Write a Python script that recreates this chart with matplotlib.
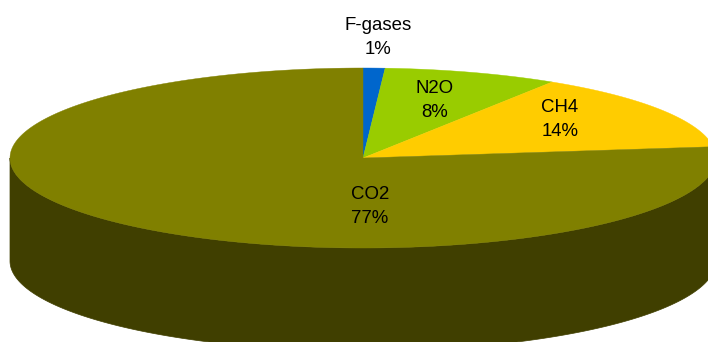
import numpy as np
import matplotlib
matplotlib.use("Agg")
import matplotlib.pyplot as plt
from matplotlib.patches import Polygon

# Data
categories = ["F-gases", "N2O", "CH4", "CO2"]
shares = [1, 8, 14, 77]
pct_labels = ["1%", "8%", "14%", "77%"]

# Styles / layout
top_colors = ["#0066CC", "#99CC00", "#FFCC00", "#808000"]
side_colors = ["#003366", "#4C6600", "#806600", "#403F00"]
cx, cy, rx, ry, depth = 363.0, 158.0, 353.0, 90.0, 103.0
label_pos = [(378, 30), (435, 93), (560, 112), (370, 199)]  # first-line baselines
line_gap = 24

fig = plt.figure(figsize=(7.08, 3.42), dpi=100)
ax = fig.add_axes([0, 0, 1, 1])
ax.set_xlim(0, 708)
ax.set_ylim(342, 0)
ax.axis("off")

def pt(t, dz=0.0):
    return cx + rx * np.sin(t), cy - ry * np.cos(t) + dz

fr = np.array(shares, dtype=float) / np.sum(shares)
bounds = np.concatenate([[0], np.cumsum(fr)]) * 2 * np.pi

# Sides (front half visible: t in [pi/2, 3pi/2])
for i in range(len(shares)):
    a0 = max(bounds[i], np.pi / 2)
    a1 = min(bounds[i + 1], 3 * np.pi / 2)
    if a1 <= a0:
        continue
    ts = np.linspace(a0, a1, 300)
    topx, topy = pt(ts)
    botx, boty = pt(ts[::-1], depth)
    poly = np.column_stack([np.concatenate([topx, botx]), np.concatenate([topy, boty])])
    ax.add_patch(Polygon(poly, closed=True, facecolor=side_colors[i], edgecolor=side_colors[i], lw=0.5))

# Top faces
for i in range(len(shares)):
    ts = np.linspace(bounds[i], bounds[i + 1], 400)
    x, y = pt(ts)
    poly = np.column_stack([np.concatenate([[cx], x]), np.concatenate([[cy], y])])
    ax.add_patch(Polygon(poly, closed=True, facecolor=top_colors[i], edgecolor=top_colors[i], lw=0.3))

# Labels
for name, pct, (lx, ly) in zip(categories, pct_labels, label_pos):
    ax.text(lx, ly, name, ha="center", va="baseline", fontsize=13.4,
            family="Liberation Sans", color="black")
    ax.text(lx, ly + line_gap, pct, ha="center", va="baseline", fontsize=13.4,
            family="Liberation Sans", color="black")

fig.savefig("out.png", dpi=100)
